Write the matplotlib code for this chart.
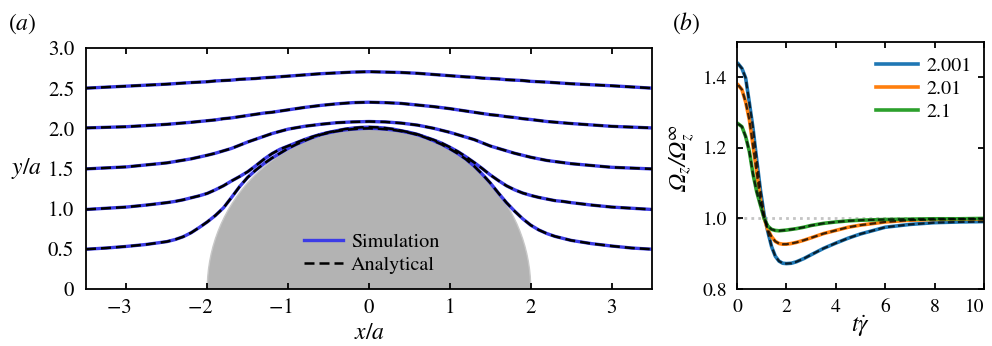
import matplotlib
matplotlib.use("Agg")
import matplotlib.pyplot as plt
from matplotlib.patches import Circle
from matplotlib.lines import Line2D

plt.rcParams['font.family'] = ['STIXGeneral', 'DejaVu Serif']
plt.rcParams['mathtext.fontset'] = 'stix'
# used only by the Omega label (math_fontfamily='custom') to get an italic capital Omega
plt.rcParams['mathtext.rm'] = 'STIXGeneral:italic'
plt.rcParams['mathtext.it'] = 'STIXGeneral:italic'
plt.rcParams['mathtext.fallback'] = 'stix'
plt.rcParams['font.size'] = 15

# (a) streamlines, x/a and y/a
x_far = [-3.5, -3.0, -2.5, -2.2, -2.0, -1.9, -1.8, -1.7, -1.6, -1.5, -1.4, -1.3, -1.2,
         -1.0, -0.8, -0.6, -0.4, -0.2, 0.0, 0.2, 0.4, 0.6, 0.8, 1.0, 1.2, 1.3, 1.4,
         1.5, 1.6, 1.7, 1.8, 1.9, 2.0, 2.2, 2.5, 3.0, 3.5]
y15 = [1.495, 1.52, 1.57, 1.62, 1.665, 1.69, 1.72, 1.75, 1.79, 1.83, 1.865, 1.90, 1.935,
       1.99, 2.025, 2.05, 2.07, 2.08, 2.085, 2.08, 2.065, 2.04, 2.0, 1.95, 1.89, 1.86, 1.82,
       1.78, 1.75, 1.72, 1.69, 1.665, 1.64, 1.60, 1.56, 1.515, 1.495]
y20 = [2.005, 2.02, 2.05, 2.075, 2.095, 2.105, 2.12, 2.13, 2.145, 2.16, 2.175, 2.19, 2.20,
       2.23, 2.26, 2.285, 2.305, 2.32, 2.325, 2.32, 2.31, 2.29, 2.27, 2.245, 2.215, 2.20, 2.185,
       2.17, 2.16, 2.145, 2.135, 2.12, 2.11, 2.085, 2.06, 2.025, 2.005]
y25 = [2.50, 2.525, 2.55, 2.57, 2.58, 2.59, 2.595, 2.60, 2.61, 2.615, 2.62, 2.63, 2.635,
       2.65, 2.665, 2.68, 2.69, 2.70, 2.705, 2.70, 2.695, 2.685, 2.67, 2.655, 2.64, 2.635, 2.625,
       2.62, 2.615, 2.605, 2.60, 2.595, 2.585, 2.575, 2.555, 2.53, 2.50]

x_near = [-3.5, -3.25, -3.0, -2.75, -2.5, -2.4, -2.3, -2.2, -2.1, -2.0, -1.9, -1.8, -1.7,
          -1.6, -1.5, -1.4, -1.3, -1.2, -1.1, -1.0, -0.9, -0.8, -0.7, -0.6, -0.5, -0.4,
          -0.3, -0.2, -0.1, 0.0, 0.1, 0.2, 0.3, 0.4, 0.5, 0.6, 0.7, 0.8, 0.9, 1.0, 1.1,
          1.2, 1.3, 1.4, 1.5, 1.6, 1.7, 1.8, 1.9, 2.0, 2.1, 2.2, 2.3, 2.4, 2.5, 2.75,
          3.0, 3.25, 3.5]
y05 = [0.495, 0.51, 0.53, 0.555, 0.59, 0.615, 0.65, 0.70, 0.765, 0.835, 0.915, 1.01, 1.14,
       1.275, 1.39, 1.48, 1.56, 1.63, 1.69, 1.75, 1.80, 1.845, 1.885, 1.92, 1.945, 1.965,
       1.98, 1.99, 1.997, 2.0, 1.997, 1.99, 1.98, 1.965, 1.945, 1.92, 1.885, 1.845, 1.80, 1.745, 1.685,
       1.615, 1.53, 1.43, 1.32, 1.195, 1.075, 0.97, 0.875, 0.795, 0.735, 0.69, 0.655, 0.63, 0.605, 0.565,
       0.535, 0.51, 0.495]
y10 = [0.99, 1.005, 1.02, 1.045, 1.075, 1.09, 1.11, 1.135, 1.16, 1.19, 1.235, 1.285, 1.345,
       1.40, 1.46, 1.535, 1.615, 1.685, 1.74, 1.78, 1.82, 1.86, 1.895, 1.925, 1.95, 1.97,
       1.99, 2.003, 2.012, 2.015, 2.012, 2.003, 1.99, 1.97, 1.95, 1.925, 1.89, 1.855, 1.815, 1.765, 1.71,
       1.645, 1.575, 1.50, 1.42, 1.35, 1.285, 1.235, 1.195, 1.165, 1.14, 1.12, 1.10, 1.09, 1.075, 1.045,
       1.02, 1.005, 0.99]
streamlines = [(x_near, y05), (x_near, y10), (x_far, y15), (x_far, y20), (x_far, y25)]
particle_radius = 2.0

# (b) Omega_z / Omega_z^inf vs t*gammadot
t = [0.05, 0.2, 0.35, 0.5, 0.65, 0.8, 0.95, 1.1, 1.25, 1.4, 1.55, 1.7, 1.85, 2.0,
     2.2, 2.4, 2.7, 3.0, 3.5, 4.0, 4.5, 5.0, 6.0, 7.0, 8.0, 9.0, 10.0]
om_2001 = [1.438, 1.425, 1.398, 1.328, 1.255, 1.165, 1.08, 1.01, 0.962, 0.92, 0.893, 0.879,
           0.873, 0.872, 0.873, 0.877, 0.886, 0.897, 0.915, 0.93, 0.944, 0.956, 0.975, 0.983,
           0.988, 0.99, 0.991]
om_201 = [1.378, 1.365, 1.33, 1.28, 1.205, 1.13, 1.052, 1.0, 0.968, 0.948, 0.935, 0.929,
          0.927, 0.927, 0.929, 0.932, 0.938, 0.945, 0.957, 0.966, 0.975, 0.981, 0.99, 0.995,
          0.997, 0.998, 0.998]
om_21 = [1.268, 1.26, 1.232, 1.19, 1.125, 1.075, 1.037, 1.0, 0.978, 0.969, 0.966, 0.965,
         0.966, 0.967, 0.969, 0.971, 0.975, 0.98, 0.986, 0.99, 0.993, 0.995, 0.997, 0.998,
         0.999, 0.999, 1.0]
gap_labels = ['2.001', '2.01', '2.1']
gap_colors = ['#1f77b4', '#ff7f0e', '#2ca02c']

fig = plt.figure(figsize=(9.92, 3.46), dpi=100)
ax1 = fig.add_axes([86/992, 1-289/346, 566/992, 241/346])
ax2 = fig.add_axes([737/992, 1-289/346, 247/992, 247/346])

blue = '#3c3ce6'
ax1.add_patch(Circle((0, 0), particle_radius, facecolor='#b3b3b3', edgecolor='#c8c8c8', lw=1, zorder=1))
for xs, ys in streamlines:
    ax1.plot(xs, ys, color=blue, lw=2.4, zorder=2)
    ax1.plot(xs, ys, color='black', lw=1.8, dashes=(4, 2), zorder=3)
ax1.set_xlim(-3.5, 3.5)
ax1.set_ylim(0, 3)
ax1.set_xticks([-3, -2, -1, 0, 1, 2, 3])
# trailing figure space keeps the digit centred on the tick, as in the original
ax1.set_xticklabels(['\u22123\u2007', '\u22122\u2007', '\u22121\u2007', '0', '1', '2', '3'])
ax1.set_yticks([0, 0.5, 1, 1.5, 2, 2.5, 3])
ax1.set_yticklabels(['0', '0.5', '1.0', '1.5', '2.0', '2.5', '3.0'])
ax1.tick_params(axis='x', direction='in', top=True, bottom=True, length=4, width=1.3, pad=7)
ax1.tick_params(axis='y', left=False, pad=5)
ax1.set_xlabel('$x/a$', fontsize=17)
ax1.xaxis.set_label_coords(0.5, -0.14)
ax1.set_ylabel('$y/a$', fontsize=17, rotation=0, ha='center', va='center')
ax1.yaxis.set_label_coords(-0.106, 0.5)
handles = [Line2D([], [], color=blue, lw=2.4), Line2D([], [], color='black', lw=1.8, dashes=(4, 2))]
ax1.legend(handles, ['Simulation', 'Analytical'], loc='center', bbox_to_anchor=(0.505, 0.147),
           frameon=False, handlelength=1.9, handletextpad=0.4, labelspacing=0.25, fontsize=14.5)

ax2.axhline(1.0, color='#c4c4c4', lw=2, ls=(0, (1, 1.5)), zorder=1)
for ys, lab, c in zip([om_2001, om_201, om_21], gap_labels, gap_colors):
    ax2.plot(t, ys, color=c, lw=2.6, label=lab, zorder=2)
    ax2.plot(t, ys, color='black', lw=1.6, dashes=(3, 1.5), alpha=0.75, zorder=3)
ax2.set_xlim(0, 10)
ax2.set_ylim(0.8, 1.5)
ax2.set_xticks([0, 2, 4, 6, 8, 10])
ax2.set_yticks([0.8, 1.0, 1.2, 1.4])
ax2.set_yticklabels(['0.8', '1.0', '1.2', '1.4'])
ax2.tick_params(direction='in', top=True, right=True, length=4, width=1.3, pad=7, labelsize=14)
ax2.get_xticklabels()[-1].set_horizontalalignment('right')
ax2.set_xlabel('$t\\dot{\\gamma}$', fontsize=17)
ax2.xaxis.set_label_coords(0.5, -0.1)
ax2.set_ylabel('$\\Omega_z/\\Omega_z^{\\infty}$', fontsize=17, math_fontfamily='custom')
ax2.yaxis.set_label_coords(-0.162, 0.53)
ax2.legend(loc='center', bbox_to_anchor=(0.755, 0.81), frameon=False, handlelength=2.1,
           handletextpad=0.4, labelspacing=0.25, fontsize=14.5)

for ax in (ax1, ax2):
    for s in ax.spines.values():
        s.set_linewidth(1.3)

fig.text(8/992, 1-24/346, '($a$)', fontsize=17, va='center')
fig.text(672/992, 1-23/346, '($b$)', fontsize=17, va='center')

fig.savefig('out.png', dpi=100)
